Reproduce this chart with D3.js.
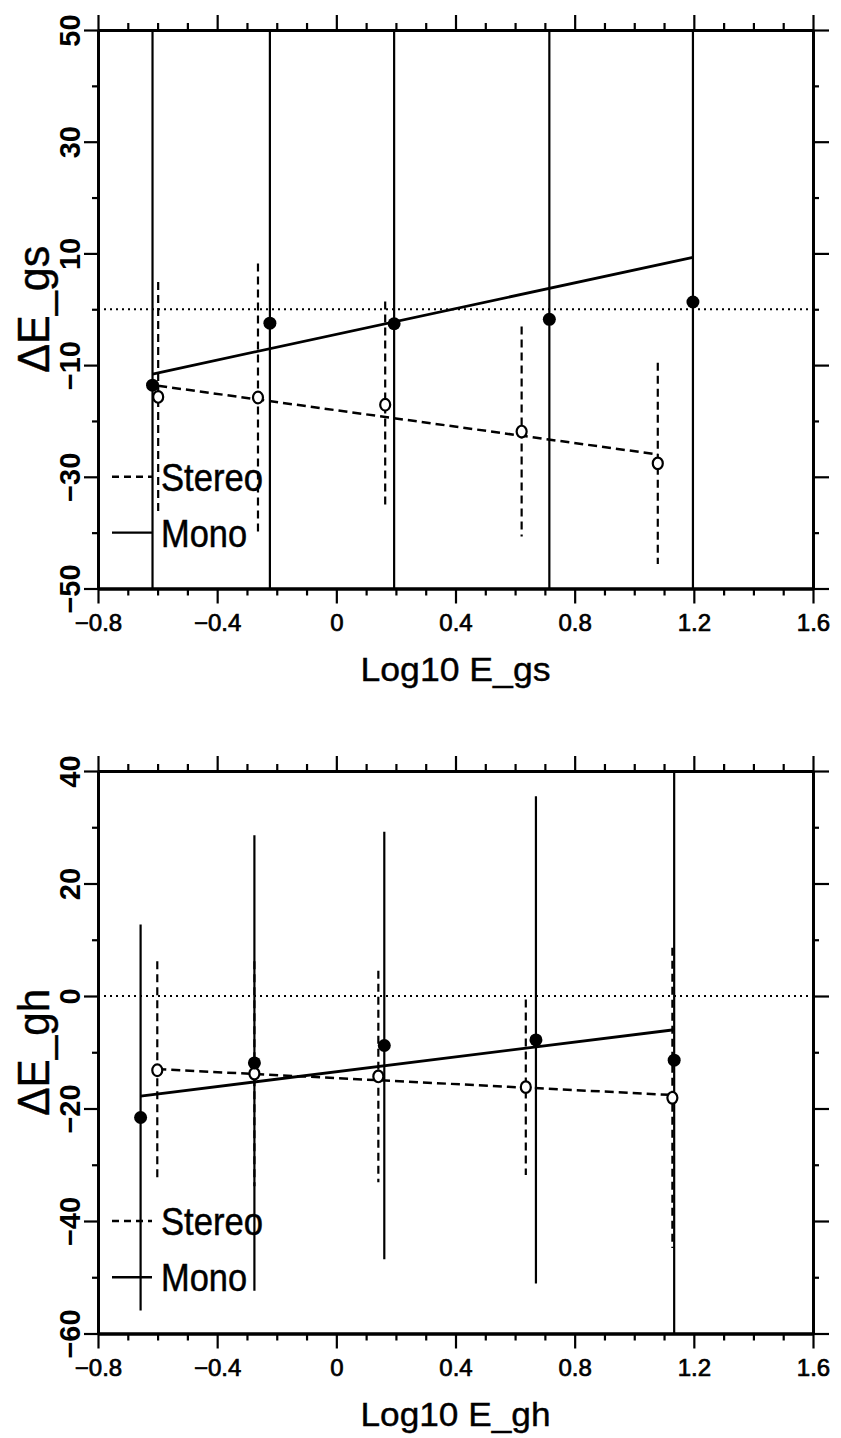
<!DOCTYPE html>
<html>
<head>
<meta charset="utf-8">
<script src="https://cdn.jsdelivr.net/npm/d3@7"></script>
<style>
  body { margin: 0; background: #fff; }
  svg { display: block; }
</style>
</head>
<body>
<div id="container"></div>
<script>
/* CONSTANTS */
const width = 841,
      height = 1438,
      left = 98,
      right = 813;

/* DATA */
// shared x axis
const xDomain = [-0.8, 1.6];
const xMajorTicks = [-0.8, -0.4, 0, 0.4, 0.8, 1.2, 1.6];
const xTickLabels = ["\u22120.8", "\u22120.4", "0", "0.4", "0.8", "1.2", "1.6"];
const xMinorTicks = [-0.7, -0.6, -0.5, -0.3, -0.2, -0.1, 0.1, 0.2, 0.3, 0.5, 0.6, 0.7, 0.9, 1.0, 1.1, 1.3, 1.4, 1.5];

// top panel: E_gs
const gsYDomain = [-50, 50];
const gsYMajor = [50, 30, 10, -10, -30, -50];
const gsYLabels = ["50", "30", "10", "\u221210", "\u221230", "\u221250"];
const gsYMinor = [40, 20, 0, -20, -40];
const gsMonoX = [-0.617, -0.223, 0.194, 0.715, 1.197];
const gsMonoY = [-13.6, -2.5, -2.6, -1.8, 1.3];
const gsMonoErr = [70, 70, 70, 70, 70];      // bars run past the frame
const gsStereoX = [-0.598, -0.263, 0.164, 0.622, 1.079];
const gsStereoY = [-15.7, -15.8, -17.1, -21.9, -27.6];
const gsStereoErr = [20.6, 24, 18.5, 18.8, 18];
const gsMonoFitX = [-0.617, 1.197];
const gsMonoFitY = [-11.6, 9.3];
const gsStereoFitX = [-0.598, 1.079];
const gsStereoFitY = [-13.7, -26.0];

// bottom panel: E_gh
const ghYDomain = [-60, 40];
const ghYMajor = [40, 20, 0, -20, -40, -60];
const ghYLabels = ["40", "20", "0", "\u221220", "\u221240", "\u221260"];
const ghYMinor = [30, 10, -10, -30, -50];
const ghMonoX = [-0.657, -0.275, 0.161, 0.67, 1.134];
const ghMonoY = [-21.6, -11.9, -8.8, -7.8, -11.4];
const ghMonoErr = [34.3, 40.5, 38, 43.3, 70];
const ghStereoX = [-0.601, -0.275, 0.141, 0.636, 1.128];
const ghStereoY = [-13.2, -13.8, -14.3, -16.2, -18.1];
const ghStereoErr = [19.4, 20, 18.8, 15.6, 26.7];
const ghMonoFitX = [-0.657, 1.134];
const ghMonoFitY = [-17.8, -6.0];
const ghStereoFitX = [-0.601, 1.128];
const ghStereoFitY = [-13.0, -17.6];

const legendLabels = ["Stereo", "Mono"];

const svg = d3.select("#container")
  .append("svg")
  .attr("width", width)
  .attr("height", height);

const zip = (xs, ys, es) => xs.map((d, i) => ({x: d, y: ys[i], e: es ? es[i] : 0}));

function drawPanel(p) {
  const xScale = d3.scaleLinear().domain(xDomain).range([left, right]);
  const yScale = d3.scaleLinear().domain(p.yDomain).range([p.bottom, p.top]);
  const g = svg.append("g");

  g.append("clipPath").attr("id", p.id)
    .append("rect")
    .attr("x", left).attr("y", p.top)
    .attr("width", right - left).attr("height", p.bottom - p.top);

  const plot = g.append("g").attr("clip-path", `url(#${p.id})`);

  // zero reference
  plot.append("line")
    .attr("x1", left).attr("x2", right)
    .attr("y1", yScale(0)).attr("y2", yScale(0))
    .attr("stroke", "#000").attr("stroke-width", 1.8)
    .attr("stroke-dasharray", "2,4");

  const mono = zip(p.monoX, p.monoY, p.monoErr);
  const stereo = zip(p.stereoX, p.stereoY, p.stereoErr);

  // error bars
  plot.selectAll(".sbar").data(stereo).join("line")
    .attr("x1", d => xScale(d.x)).attr("x2", d => xScale(d.x))
    .attr("y1", d => yScale(d.y + d.e)).attr("y2", d => yScale(d.y - d.e))
    .attr("stroke", "#000").attr("stroke-width", 2.2)
    .attr("stroke-dasharray", "8,5");

  plot.selectAll(".mbar").data(mono).join("line")
    .attr("x1", d => xScale(d.x)).attr("x2", d => xScale(d.x))
    .attr("y1", d => yScale(d.y + d.e)).attr("y2", d => yScale(d.y - d.e))
    .attr("stroke", "#000").attr("stroke-width", 2.2);

  // fit lines
  const line = d3.line().x(d => xScale(d.x)).y(d => yScale(d.y));
  plot.append("path")
    .attr("d", line(zip(p.stereoFitX, p.stereoFitY)))
    .attr("fill", "none").attr("stroke", "#000").attr("stroke-width", 2.5)
    .attr("stroke-dasharray", "9,5");
  plot.append("path")
    .attr("d", line(zip(p.monoFitX, p.monoFitY)))
    .attr("fill", "none").attr("stroke", "#000").attr("stroke-width", 2.8);

  // points
  plot.selectAll(".spt").data(stereo).join("ellipse")
    .attr("cx", d => xScale(d.x)).attr("cy", d => yScale(d.y))
    .attr("rx", 5).attr("ry", 5.8).attr("fill", "#fff")
    .attr("stroke", "#000").attr("stroke-width", 2.2);
  plot.selectAll(".mpt").data(mono).join("circle")
    .attr("cx", d => xScale(d.x)).attr("cy", d => yScale(d.y))
    .attr("r", 6.5).attr("fill", "#000");

  // axes
  const styleAxis = sel => {
    sel.select(".domain").attr("stroke-width", 2.8);
    sel.selectAll(".tick line").attr("stroke-width", 2.2);
  };

  g.append("g").attr("transform", `translate(0,${p.bottom})`)
    .call(d3.axisBottom(xScale).tickValues(xMinorTicks).tickSize(7).tickSizeOuter(0).tickFormat(""))
    .call(styleAxis);
  const xb = g.append("g").attr("transform", `translate(0,${p.bottom})`)
    .call(d3.axisBottom(xScale).tickValues(xMajorTicks).tickSize(15).tickSizeOuter(0)
      .tickFormat((d, i) => xTickLabels[i]))
    .call(styleAxis);
  xb.selectAll("text")
    .attr("y", 42).attr("dy", null)
    .attr("font-family", "'Liberation Sans', Arial, sans-serif")
    .attr("font-size", 24).attr("fill", "#000")
    .attr("stroke", "#000").attr("stroke-width", 0.7);

  g.append("g").attr("transform", `translate(0,${p.top})`)
    .call(d3.axisTop(xScale).tickValues(xMinorTicks).tickSize(7).tickSizeOuter(0).tickFormat(""))
    .call(styleAxis);
  g.append("g").attr("transform", `translate(0,${p.top})`)
    .call(d3.axisTop(xScale).tickValues(xMajorTicks).tickSize(15).tickSizeOuter(0).tickFormat(""))
    .call(styleAxis);

  g.append("g").attr("transform", `translate(${left},0)`)
    .call(d3.axisLeft(yScale).tickValues(p.yMinor).tickSize(6).tickSizeOuter(0).tickFormat(""))
    .call(styleAxis);
  const yl = g.append("g").attr("transform", `translate(${left},0)`)
    .call(d3.axisLeft(yScale).tickValues(p.yMajor).tickSize(14).tickSizeOuter(0)
      .tickFormat((d, i) => p.yLabels[i]))
    .call(styleAxis);
  yl.selectAll("text")
    .attr("x", null).attr("dy", null)
    .attr("text-anchor", "middle")
    .attr("transform", "translate(-18,0) rotate(-90)")
    .attr("font-family", "'Liberation Sans', Arial, sans-serif")
    .attr("font-weight", "bold")
    .attr("font-size", 29).attr("fill", "#000");

  g.append("g").attr("transform", `translate(${right},0)`)
    .call(d3.axisRight(yScale).tickValues(p.yMinor).tickSize(6).tickSizeOuter(0).tickFormat(""))
    .call(styleAxis);
  g.append("g").attr("transform", `translate(${right},0)`)
    .call(d3.axisRight(yScale).tickValues(p.yMajor).tickSize(16).tickSizeOuter(0).tickFormat(""))
    .call(styleAxis);

  // titles
  g.append("text")
    .attr("x", (left + right) / 2).attr("y", p.bottom + 92)
    .attr("text-anchor", "middle")
    .attr("font-family", "'Liberation Sans', Arial, sans-serif")
    .attr("font-size", 33)
    .attr("stroke", "#000").attr("stroke-width", 0.4)
    .attr("textLength", 190).attr("lengthAdjust", "spacingAndGlyphs")
    .text(p.xTitle);

  g.append("text")
    .attr("transform", `translate(49,${(p.top + p.bottom) / 2}) rotate(-90)`)
    .attr("text-anchor", "middle")
    .attr("font-family", "'Liberation Sans', Arial, sans-serif")
    .attr("font-size", 44)
    .attr("stroke", "#000").attr("stroke-width", 0.4)
    .attr("textLength", 127).attr("lengthAdjust", "spacingAndGlyphs")
    .text(p.yTitle);

  // legend
  const leg = g.selectAll(".legend")
    .data(legendLabels.map((d, i) => ({label: d, y: p.legendY[i], dashed: i === 0})))
    .join("g")
    .attr("transform", d => `translate(0,${yScale(d.y)})`);
  leg.append("line")
    .attr("x1", 112).attr("x2", 152)
    .attr("stroke", "#000").attr("stroke-width", 2.4)
    .attr("stroke-dasharray", d => d.dashed ? "7,5" : null);
  leg.append("text")
    .attr("x", 161).attr("y", 14)
    .attr("font-family", "'Liberation Sans', Arial, sans-serif")
    .attr("font-size", 39)
    .attr("stroke", "#000").attr("stroke-width", 0.5)
    .attr("textLength", d => d.dashed ? 102 : 86)
    .attr("lengthAdjust", "spacingAndGlyphs")
    .text(d => d.label);
}

drawPanel({
  id: "clip-gs", top: 30, bottom: 588.5,
  yDomain: gsYDomain, yMajor: gsYMajor, yLabels: gsYLabels, yMinor: gsYMinor,
  monoX: gsMonoX, monoY: gsMonoY, monoErr: gsMonoErr,
  stereoX: gsStereoX, stereoY: gsStereoY, stereoErr: gsStereoErr,
  monoFitX: gsMonoFitX, monoFitY: gsMonoFitY,
  stereoFitX: gsStereoFitX, stereoFitY: gsStereoFitY,
  legendY: [-30, -40],
  xTitle: "Log10 E_gs", yTitle: "\u0394E_gs"
});

drawPanel({
  id: "clip-gh", top: 771, bottom: 1333.5,
  yDomain: ghYDomain, yMajor: ghYMajor, yLabels: ghYLabels, yMinor: ghYMinor,
  monoX: ghMonoX, monoY: ghMonoY, monoErr: ghMonoErr,
  stereoX: ghStereoX, stereoY: ghStereoY, stereoErr: ghStereoErr,
  monoFitX: ghMonoFitX, monoFitY: ghMonoFitY,
  stereoFitX: ghStereoFitX, stereoFitY: ghStereoFitY,
  legendY: [-40, -50],
  xTitle: "Log10 E_gh", yTitle: "\u0394E_gh"
});
</script>
</body>
</html>
